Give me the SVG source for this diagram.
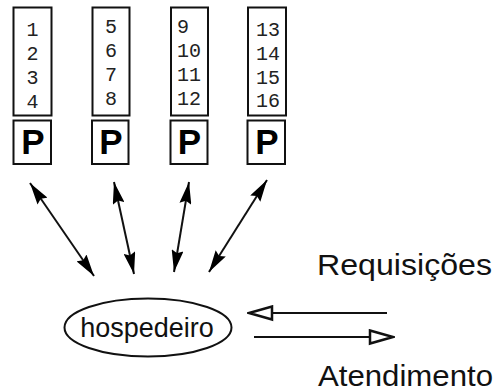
<svg xmlns="http://www.w3.org/2000/svg" width="497" height="391" viewBox="0 0 497 391">
  <style>
    .box { fill: #fff; stroke: #111; stroke-width: 2; }
    .num { font-family: "Liberation Mono", "DejaVu Sans Mono", monospace; font-size: 20px; fill: #222; }
    .p { font-family: "Liberation Sans", Arial, sans-serif; font-weight: bold; font-size: 35px; fill: #000; text-anchor: middle; }
    .lbl { font-family: "Liberation Sans", Arial, sans-serif; fill: #111; }
    .link { stroke: #111; stroke-width: 2; fill: none; }
  </style>
  <defs>
    <marker id="solid" markerUnits="userSpaceOnUse" viewBox="0 0 22 12" refX="22" refY="6" markerWidth="22" markerHeight="12" orient="auto-start-reverse">
      <path d="M0,0 L22,6 L0,12 L3,6 Z" fill="#000"/>
    </marker>
    <marker id="open" markerUnits="userSpaceOnUse" viewBox="-2 -2 27 17" refX="23" refY="6.5" markerWidth="27" markerHeight="17" orient="auto">
      <path d="M0,0 L23,6.5 L0,13 Z" fill="#fff" stroke="#111" stroke-width="2.5" stroke-linejoin="miter"/>
    </marker>
  </defs>

  <rect width="497" height="391" fill="#fff"/>

  <g id="proc1">
    <rect class="box" x="13.5" y="7.5" width="38" height="108"/>
    <text class="num" x="26.5" y="36">1</text>
    <text class="num" x="26.5" y="60">2</text>
    <text class="num" x="26.5" y="84">3</text>
    <text class="num" x="26.5" y="108">4</text>
    <rect class="box" x="13.5" y="120.5" width="37.5" height="43.5"/>
    <text class="p" x="33" y="154">P</text>
  </g>

  <g id="proc2">
    <rect class="box" x="92.5" y="7.5" width="37" height="108"/>
    <text class="num" x="105" y="33">5</text>
    <text class="num" x="105" y="57">6</text>
    <text class="num" x="105" y="81">7</text>
    <text class="num" x="105" y="105">8</text>
    <rect class="box" x="92" y="120.5" width="36.5" height="43.5"/>
    <text class="p" x="111" y="154">P</text>
  </g>

  <g id="proc3">
    <rect class="box" x="171" y="7.5" width="37" height="108"/>
    <text class="num" x="177" y="33">9</text>
    <text class="num" x="177" y="57">10</text>
    <text class="num" x="177" y="81">11</text>
    <text class="num" x="177" y="105">12</text>
    <rect class="box" x="170.5" y="120.5" width="37" height="43.5"/>
    <text class="p" x="189.5" y="154">P</text>
  </g>

  <g id="proc4">
    <rect class="box" x="248" y="7.5" width="38" height="108"/>
    <text class="num" x="256" y="36">13</text>
    <text class="num" x="256" y="60">14</text>
    <text class="num" x="256" y="84">15</text>
    <text class="num" x="256" y="107">16</text>
    <rect class="box" x="247.5" y="120.5" width="37.5" height="43.5"/>
    <text class="p" x="267" y="154">P</text>
  </g>

  <g id="host">
    <ellipse cx="148" cy="327.5" rx="83.5" ry="29" fill="#fff" stroke="#111" stroke-width="2"/>
    <text class="lbl" x="147" y="337" font-size="27" text-anchor="middle">hospedeiro</text>
  </g>

  <g id="connectors">
    <line class="link" x1="30" y1="183" x2="94" y2="276" marker-start="url(#solid)" marker-end="url(#solid)"/>
    <line class="link" x1="114" y1="182" x2="134" y2="274" marker-start="url(#solid)" marker-end="url(#solid)"/>
    <line class="link" x1="189" y1="182" x2="174" y2="272" marker-start="url(#solid)" marker-end="url(#solid)"/>
    <line class="link" x1="267" y1="180" x2="209" y2="272" marker-start="url(#solid)" marker-end="url(#solid)"/>
    <line class="link" x1="387" y1="313" x2="249" y2="313" marker-end="url(#open)"/>
    <line class="link" x1="254" y1="337" x2="393" y2="337" marker-end="url(#open)"/>
  </g>

  <g id="labels">
    <text class="lbl" x="317" y="275" font-size="29" textLength="175" lengthAdjust="spacingAndGlyphs">Requisições</text>
    <text class="lbl" x="318" y="386" font-size="29" textLength="175" lengthAdjust="spacingAndGlyphs">Atendimento</text>
  </g>
</svg>
